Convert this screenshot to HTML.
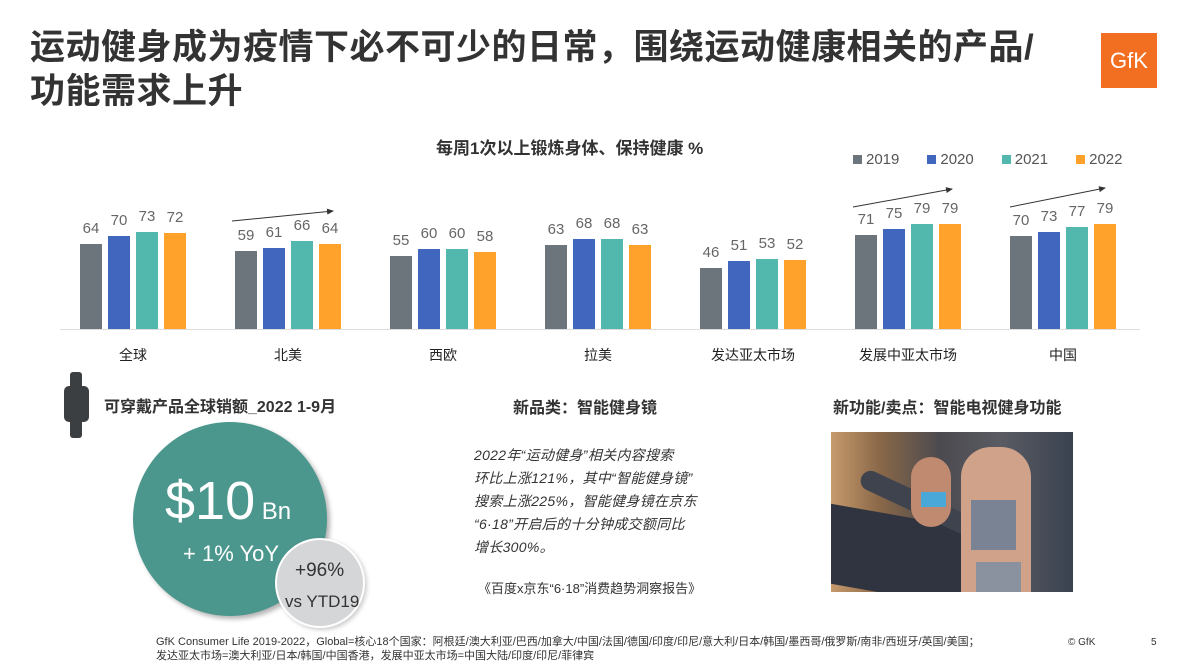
<!DOCTYPE html>
<html><head><meta charset="utf-8"><style>
*{margin:0;padding:0;box-sizing:border-box}
body{width:1190px;height:669px;background:#fff;position:relative;overflow:hidden;font-family:"Liberation Sans","Noto Sans CJK SC",sans-serif;color:#333}
.a{position:absolute;white-space:nowrap}
.bar{position:absolute;width:22px}
.v{position:absolute;width:30px;text-align:center;font-size:15px;color:#666}
.cat{position:absolute;width:120px;text-align:center;font-size:14px;color:#222;top:345px}
.lg{display:inline-block;width:9px;height:9px;margin-right:4px}
.gp{display:inline-block;width:28px}
</style></head><body>
<div class="a" style="left:30px;top:26px;font-size:35px;font-weight:bold;color:#333;line-height:44px;letter-spacing:0.5px">运动健身成为疫情下必不可少的日常，围绕运动健康相关的产品/<br>功能需求上升</div>
<div class="a" style="left:1101px;top:33px;width:56px;height:55px;background:#f26f21;color:#fff;font-size:22px;text-align:center;line-height:55px">GfK</div>
<div class="a" style="left:436px;top:134px;font-size:17px;font-weight:bold;color:#333">每周1次以上锻炼身体、保持健康 %</div>
<div class="a" style="left:853px;top:151px;font-size:15px;color:#555">
<span class="lg" style="background:#6b757b"></span>2019<span class="gp"></span><span class="lg" style="background:#4166bd"></span>2020<span class="gp"></span><span class="lg" style="background:#52b8ae"></span>2021<span class="gp"></span><span class="lg" style="background:#fea22b"></span>2022</div>
<div class="a" style="left:60px;top:329px;width:1080px;height:1px;background:#ddd"></div>
<svg class="a" style="left:0;top:0" width="1190" height="669">
<defs><marker id="m" markerWidth="8" markerHeight="8" refX="6" refY="3" orient="auto"><path d="M0,0L7,3L0,6z" fill="#333"/></marker></defs>
<line x1="232" y1="221" x2="333" y2="211" stroke="#333" stroke-width="1" marker-end="url(#m)"/>
<line x1="853" y1="207" x2="952" y2="189" stroke="#333" stroke-width="1" marker-end="url(#m)"/>
<line x1="1010" y1="207" x2="1105" y2="188" stroke="#333" stroke-width="1" marker-end="url(#m)"/>
</svg>
<div id="chart"></div>
<script>
var d=[["全球",[64,70,73,72]],["北美",[59,61,66,64]],["西欧",[55,60,60,58]],["拉美",[63,68,68,63]],["发达亚太市场",[46,51,53,52]],["发展中亚太市场",[71,75,79,79]],["中国",[70,73,77,79]]];
var c=["#6b757b","#4166bd","#52b8ae","#fea22b"],h="";
d.forEach(function(g,i){var x0=80+i*155;
g[1].forEach(function(v,j){var hh=v*1.33,x=x0+j*28;
h+='<div class="bar" style="left:'+x+'px;top:'+(329-hh)+'px;height:'+hh+'px;background:'+c[j]+'"></div>';
h+='<div class="v" style="left:'+(x-4)+'px;top:'+(329-hh-24)+'px">'+v+'</div>';});
h+='<div class="cat" style="left:'+(x0+53-60)+'px">'+g[0]+'</div>';});
document.getElementById("chart").innerHTML=h;
</script>
<div class="a" style="top:372px;left:70px;width:12px;height:66px;background:#3b3f42;border-radius:3px"></div>
<div class="a" style="left:64px;top:386px;width:25px;height:36px;background:#3b3f42;border-radius:5px"></div>
<div class="a" style="left:104px;top:393px;font-size:16px;font-weight:bold;color:#333">可穿戴产品全球销额_2022 1-9月</div>
<div class="a" style="left:133px;top:422px;width:194px;height:194px;border-radius:50%;background:#4b978e;box-shadow:3px 3px 5px rgba(0,0,0,.3)"></div>
<div class="a" style="left:165px;top:470px;font-size:54px;color:#fff;font-weight:300">$10<span style="font-size:24px"> Bn</span></div>
<div class="a" style="left:183px;top:541px;font-size:22px;color:#fff">+ 1% YoY</div>
<div class="a" style="left:275px;top:538px;width:90px;height:90px;border-radius:50%;background:#d4d6d8;border:2px solid #fff;box-shadow:2px 2px 4px rgba(0,0,0,.2)"></div>
<div class="a" style="left:295px;top:560px;font-size:19px;color:#333">+96%</div>
<div class="a" style="left:285px;top:592px;font-size:17px;color:#333">vs YTD19</div>
<div class="a" style="left:513px;top:394px;font-size:16px;font-weight:bold;color:#333">新品类：智能健身镜</div>
<div class="a" style="left:474px;top:444px;font-size:14px;font-style:italic;color:#333;line-height:23px;letter-spacing:0.3px">2022年“运动健身”相关内容搜索<br>环比上涨121%，其中“智能健身镜”<br>搜索上涨225%，智能健身镜在京东<br>“6·18”开启后的十分钟成交额同比<br>增长300%。</div>
<div class="a" style="left:478px;top:578px;font-size:13px;color:#333">《百度x京东“6·18”消费趋势洞察报告》</div>
<div class="a" style="left:833px;top:394px;font-size:16px;font-weight:bold;color:#333">新功能/卖点：智能电视健身功能</div>
<div class="a" style="left:831px;top:432px;width:242px;height:160px;overflow:hidden;background:linear-gradient(90deg,#c79a6d 0%,#8a6848 20%,#4b4a4f 45%,#5a5b63 70%,#3a4250 100%)">
<div class="a" style="left:0;top:85px;width:150px;height:80px;background:#2f3440;transform:skewY(10deg)"></div>
<div class="a" style="left:25px;top:60px;width:120px;height:20px;background:#3e434d;border-radius:10px;transform:rotate(25deg)"></div>
<div class="a" style="left:80px;top:25px;width:40px;height:70px;background:#c08a70;border-radius:20px"></div>
<div class="a" style="left:90px;top:60px;width:25px;height:15px;background:#4aa8d8"></div>
<div class="a" style="left:130px;top:15px;width:70px;height:145px;background:#d1a28a;border-radius:30px 30px 0 0"></div>
<div class="a" style="left:140px;top:68px;width:45px;height:50px;background:#7a8394"></div>
<div class="a" style="left:145px;top:130px;width:45px;height:30px;background:#8a92a0"></div>
</div>
<div class="a" style="left:156px;top:635px;font-size:11px;color:#333;line-height:14px">GfK Consumer Life 2019-2022，Global=核心18个国家：阿根廷/澳大利亚/巴西/加拿大/中国/法国/德国/印度/印尼/意大利/日本/韩国/墨西哥/俄罗斯/南非/西班牙/英国/美国；<br>发达亚太市场=澳大利亚/日本/韩国/中国香港，发展中亚太市场=中国大陆/印度/印尼/菲律宾</div>
<div class="a" style="left:1068px;top:637px;font-size:10px;color:#333">© GfK</div>
<div class="a" style="left:1151px;top:637px;font-size:10px;color:#333">5</div>
</body></html>
